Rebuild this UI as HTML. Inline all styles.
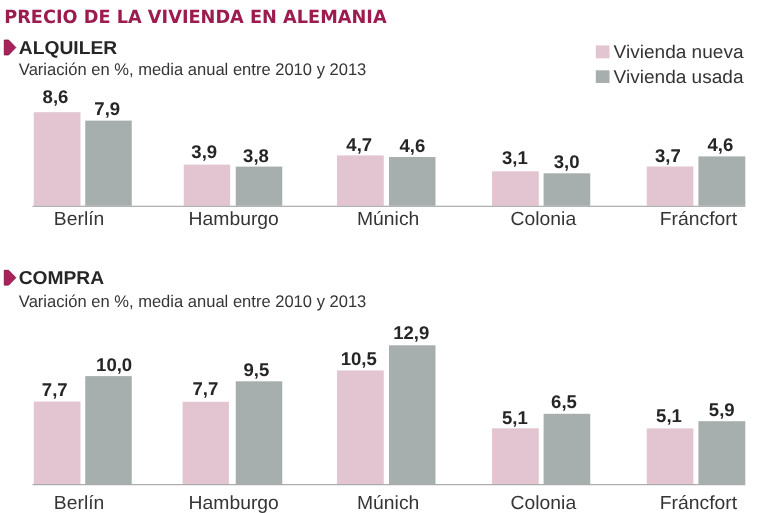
<!DOCTYPE html>
<html lang="es"><head><meta charset="utf-8"><title>Precio de la vivienda en Alemania</title>
<style>
html,body{margin:0;padding:0;background:#fff;}
body{width:768px;height:513px;position:relative;overflow:hidden;font-family:"Liberation Sans",Arial,sans-serif;color:#2a2a2a;}
.t{text-rendering:geometricPrecision;position:absolute;left:0;top:0;white-space:nowrap;line-height:1;transform-origin:0 0;}
.title{font-family:"DejaVu Sans","Liberation Sans",sans-serif;font-weight:bold;color:#9c1c50;}
.h{font-weight:bold;color:#262626;}
.sub{color:#353535;}
.val{font-weight:bold;color:#262626;}
.city{color:#353535;}
.leg{color:#353535;}
svg{position:absolute;}

</style></head><body>
<svg width="768" height="513" viewBox="0 0 768 513" style="left:0;top:0">
<path transform="translate(3.8 39.6)" d="M0.5 0.5H4.8L12 7.9L4.8 15.3H0.5Z" fill="#a8235c" stroke="#8a1a49" stroke-width="1" stroke-linejoin="round"/>
<path transform="translate(3.8 269.8)" d="M0.5 0.5H4.8L12 7.9L4.8 15.3H0.5Z" fill="#a8235c" stroke="#8a1a49" stroke-width="1" stroke-linejoin="round"/>
<rect x="595.80" y="45.40" width="13.70" height="12.90" fill="#e3c4d1"/>
<rect x="595.80" y="70.30" width="13.70" height="12.70" fill="#a7afae"/>
<rect x="33.75" y="112.20" width="46.75" height="93.55" fill="#e3c4d1"/>
<rect x="85.25" y="120.60" width="46.50" height="85.15" fill="#a7afae"/>
<rect x="183.75" y="164.60" width="46.35" height="41.15" fill="#e3c4d1"/>
<rect x="235.75" y="166.60" width="46.50" height="39.15" fill="#a7afae"/>
<rect x="337.00" y="155.40" width="46.75" height="50.35" fill="#e3c4d1"/>
<rect x="389.00" y="157.00" width="46.50" height="48.75" fill="#a7afae"/>
<rect x="492.00" y="171.30" width="46.75" height="34.45" fill="#e3c4d1"/>
<rect x="543.60" y="173.30" width="46.65" height="32.45" fill="#a7afae"/>
<rect x="646.75" y="166.50" width="46.65" height="39.25" fill="#e3c4d1"/>
<rect x="698.40" y="156.40" width="46.90" height="49.35" fill="#a7afae"/>
<rect x="32.50" y="205.75" width="712.80" height="1.00" fill="#9a9a9a"/>
<rect x="33.75" y="401.60" width="46.75" height="82.60" fill="#e3c4d1"/>
<rect x="85.25" y="376.10" width="46.50" height="108.10" fill="#a7afae"/>
<rect x="182.60" y="401.80" width="46.30" height="82.40" fill="#e3c4d1"/>
<rect x="235.75" y="381.30" width="46.50" height="102.90" fill="#a7afae"/>
<rect x="337.00" y="370.40" width="46.75" height="113.80" fill="#e3c4d1"/>
<rect x="389.00" y="345.30" width="46.50" height="138.90" fill="#a7afae"/>
<rect x="492.00" y="428.30" width="46.75" height="55.90" fill="#e3c4d1"/>
<rect x="543.60" y="413.80" width="46.65" height="70.40" fill="#a7afae"/>
<rect x="646.75" y="428.40" width="46.65" height="55.80" fill="#e3c4d1"/>
<rect x="698.40" y="421.20" width="46.90" height="63.00" fill="#a7afae"/>
<rect x="32.50" y="484.20" width="712.80" height="1.00" fill="#9a9a9a"/>
</svg>
<div class="t title" style="font-size:18.3px;transform:translate(4.18px,8.77px) scaleX(0.9691)">PRECIO DE LA VIVIENDA EN ALEMANIA</div>
<div class="t h" style="font-size:18.7px;transform:translate(18.85px,38.87px) scaleX(1.0293)">ALQUILER</div>
<div class="t h" style="font-size:18.7px;transform:translate(18.65px,268.95px) scaleX(1.0293)">COMPRA</div>
<div class="t sub" style="font-size:16.9px;transform:translate(18.85px,61.96px) scaleX(0.9798)">Variación en %, media anual entre 2010 y 2013</div>
<div class="t sub" style="font-size:16.9px;transform:translate(18.85px,294.11px) scaleX(0.9798)">Variación en %, media anual entre 2010 y 2013</div>
<div class="t leg" style="font-size:18.4px;transform:translate(613.59px,43.06px) scaleX(1.0358)">Vivienda nueva</div>
<div class="t leg" style="font-size:18.4px;transform:translate(613.59px,68.06px) scaleX(1.0358)">Vivienda usada</div>
<div class="t val" style="font-size:18.4px;transform:translate(42.61px,87.70px) scaleX(1.0100)">8,6</div>
<div class="t val" style="font-size:18.4px;transform:translate(94.34px,100.22px) scaleX(1.0100)">7,9</div>
<div class="t val" style="font-size:18.4px;transform:translate(191.37px,143.30px) scaleX(1.0100)">3,9</div>
<div class="t val" style="font-size:18.4px;transform:translate(243.10px,146.99px) scaleX(1.0100)">3,8</div>
<div class="t val" style="font-size:18.4px;transform:translate(346.37px,135.98px) scaleX(1.0100)">4,7</div>
<div class="t val" style="font-size:18.4px;transform:translate(399.42px,136.70px) scaleX(1.0100)">4,6</div>
<div class="t val" style="font-size:18.4px;transform:translate(501.97px,148.80px) scaleX(1.0100)">3,1</div>
<div class="t val" style="font-size:18.4px;transform:translate(553.70px,152.70px) scaleX(1.0100)">3,0</div>
<div class="t val" style="font-size:18.4px;transform:translate(655.00px,146.87px) scaleX(1.0100)">3,7</div>
<div class="t val" style="font-size:18.4px;transform:translate(707.49px,136.46px) scaleX(1.0100)">4,6</div>
<div class="t val" style="font-size:18.4px;transform:translate(41.84px,380.70px) scaleX(1.0100)">7,7</div>
<div class="t val" style="font-size:18.4px;transform:translate(96.05px,355.70px) scaleX(1.0100)">10,0</div>
<div class="t val" style="font-size:18.4px;transform:translate(192.49px,379.50px) scaleX(1.0100)">7,7</div>
<div class="t val" style="font-size:18.4px;transform:translate(243.48px,361.41px) scaleX(1.0100)">9,5</div>
<div class="t val" style="font-size:18.4px;transform:translate(340.66px,349.80px) scaleX(1.0100)">10,5</div>
<div class="t val" style="font-size:18.4px;transform:translate(393.18px,323.70px) scaleX(1.0100)">12,9</div>
<div class="t val" style="font-size:18.4px;transform:translate(501.95px,409.12px) scaleX(1.0100)">5,1</div>
<div class="t val" style="font-size:18.4px;transform:translate(551.06px,392.50px) scaleX(1.0100)">6,5</div>
<div class="t val" style="font-size:18.4px;transform:translate(656.11px,407.07px) scaleX(1.0100)">5,1</div>
<div class="t val" style="font-size:18.4px;transform:translate(708.83px,400.70px) scaleX(1.0100)">5,9</div>
<div class="t city" style="font-size:19.0px;transform:translate(53.82px,210.40px) scaleX(1.0170)">Berlín</div>
<div class="t city" style="font-size:19.0px;transform:translate(188.62px,210.40px) scaleX(1.0170)">Hamburgo</div>
<div class="t city" style="font-size:19.0px;transform:translate(357.00px,210.40px) scaleX(1.0170)">Múnich</div>
<div class="t city" style="font-size:19.0px;transform:translate(510.62px,210.40px) scaleX(1.0170)">Colonia</div>
<div class="t city" style="font-size:19.0px;transform:translate(659.82px,210.40px) scaleX(1.0170)">Fráncfort</div>
<div class="t city" style="font-size:19.0px;transform:translate(53.82px,494.00px) scaleX(1.0170)">Berlín</div>
<div class="t city" style="font-size:19.0px;transform:translate(188.62px,494.00px) scaleX(1.0170)">Hamburgo</div>
<div class="t city" style="font-size:19.0px;transform:translate(357.00px,494.00px) scaleX(1.0170)">Múnich</div>
<div class="t city" style="font-size:19.0px;transform:translate(510.62px,494.00px) scaleX(1.0170)">Colonia</div>
<div class="t city" style="font-size:19.0px;transform:translate(659.82px,494.00px) scaleX(1.0170)">Fráncfort</div>
</body></html>
